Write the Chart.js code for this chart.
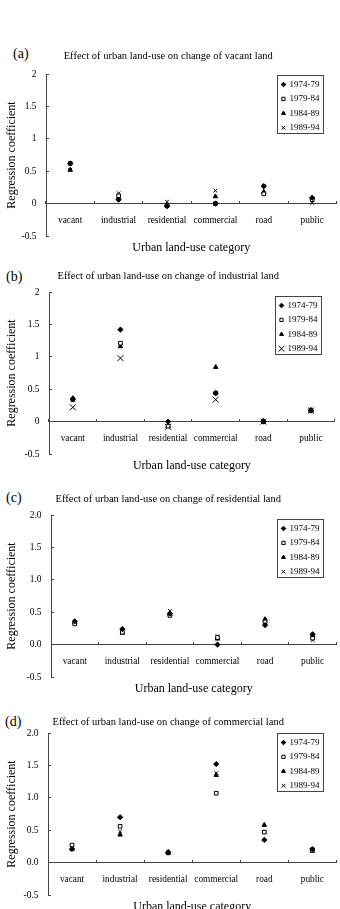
<!DOCTYPE html>
<html>
<head>
<meta charset="utf-8">
<title>Effect of urban land-use</title>
<script src="https://cdn.jsdelivr.net/npm/chart.js@4.4.0/dist/chart.umd.min.js"></script>
<style>
  body { margin: 0; background: #fff; width: 340px; height: 909px; position: relative; overflow: hidden; font-family: 'Liberation Serif', 'Times New Roman', serif; }
  .panel { position: absolute; left: 0; width: 340px; height: 213px; }
  .tag { position: absolute; font-size: 14px; line-height: 16px; color: #000; }
</style>
</head>
<body>
<div class="tag" style="left:13px;top:46px">(a)</div>
<div class="tag" style="left:6px;top:269px">(b)</div>
<div class="tag" style="left:6px;top:490px">(c)</div>
<div class="tag" style="left:5px;top:714px">(d)</div>

<div class="panel" style="top:44px"><canvas id="chartA"></canvas></div>
<div class="panel" style="top:262px"><canvas id="chartB"></canvas></div>
<div class="panel" style="top:485px"><canvas id="chartC"></canvas></div>
<div class="panel" style="top:703px"><canvas id="chartD"></canvas></div>

<script>
    const categories = ['vacant', 'industrial', 'residential', 'commercial', 'road', 'public'];
    const periods = ['1974-79', '1979-84', '1984-89', '1989-94'];
    const yTicksPlain = ['-0.5', '0', '0.5', '1', '1.5', '2'];
    const yTicksFixed = ['-0.5', '0.0', '0.5', '1.0', '1.5', '2.0'];

    // regression coefficients, one row per period (same order as periods)
    const vacantCoef = [
        [0.62, 0.06, -0.04, 0.00, 0.27, 0.09],
        [0.62, 0.12, -0.03, 0.00, 0.15, 0.06],
        [0.52, 0.09, -0.02, 0.11, 0.18, 0.09],
        [0.52, 0.16, 0.03, 0.20, 0.27, 0.01]
    ];
    const industrialCoef = [
        [0.35, 1.42, 0.00, 0.44, 0.00, 0.17],
        [0.34, 1.21, -0.07, 0.44, 0.00, 0.17],
        [0.36, 1.16, -0.07, 0.84, 0.01, 0.18],
        [0.22, 0.98, -0.08, 0.34, 0.00, 0.17]
    ];
    const residentialCoef = [
        [0.36, 0.24, 0.48, 0.00, 0.30, 0.16],
        [0.32, 0.19, 0.45, 0.11, 0.35, 0.10],
        [0.34, 0.18, 0.47, 0.09, 0.39, 0.14],
        [0.33, 0.21, 0.52, 0.13, 0.37, 0.07]
    ];
    const commercialCoef = [
        [0.21, 0.70, 0.16, 1.52, 0.35, 0.21],
        [0.27, 0.56, 0.15, 1.07, 0.47, 0.19],
        [0.21, 0.43, 0.16, 1.35, 0.58, 0.18],
        [0.23, 0.48, 0.15, 1.38, 0.47, 0.20]
    ];

    const markerStyles = ['rectRot', 'rect', 'triangle', 'crossRot'];
    const serif = 'Liberation Serif';
    const axisColor = '#444';

    // legend drawn as a framed box in the upper right of the plot
    const boxLegendPlugin = {
        id: 'boxLegend',
        afterDraw(chart, args, opts) {
            const { ctx, chartArea } = chart;
            const w = 46, h = 58;
            const x0 = Math.round(chartArea.right - 13.5 - w);
            const y0 = Math.round(chartArea.top + opts.top);
            ctx.save();
            ctx.strokeStyle = axisColor;
            ctx.lineWidth = 1;
            ctx.strokeRect(x0 + 0.5, y0 + 0.5, w, h);
            ctx.font = '9px "' + serif + '"';
            ctx.textBaseline = 'middle';
            chart.data.datasets.forEach((ds, i) => {
                const y = y0 + 9.5 + i * 14.4;
                ctx.fillStyle = ds.pointBackgroundColor;
                ctx.strokeStyle = '#000';
                ctx.lineWidth = 1;
                Chart.helpers.drawPoint(ctx, {
                    pointStyle: ds.pointStyle,
                    radius: i === 3 ? ds.pointRadius : 2.3,
                    borderWidth: 1
                }, x0 + 6.5, y);
                ctx.fillStyle = '#000';
                ctx.fillText(ds.label, x0 + 12.5, y);
            });
            ctx.restore();
        }
    };

    function makeChart(id, title, coef, tickLabels, opts) {
        const ctx = document.getElementById(id).getContext('2d');
        return new Chart(ctx, {
            type: 'line',
            data: {
                labels: categories,
                datasets: periods.map((p, i) => ({
                    label: p,
                    data: coef[i],
                    showLine: false,
                    pointStyle: markerStyles[i],
                    pointRadius: i === 3 ? opts.cross : 2.6,
                    pointHoverRadius: i === 3 ? opts.cross : 2.6,
                    pointBackgroundColor: i === 1 ? '#fff' : '#000',
                    pointBorderColor: '#000',
                    pointBorderWidth: 1
                }))
            },
            options: {
                responsive: true,
                maintainAspectRatio: false,
                animation: false,
                layout: { padding: { left: 0, right: 3.5, top: 0, bottom: 0 } },
                plugins: {
                    legend: { display: false },
                    tooltip: { enabled: false },
                    subtitle: {
                        display: true,
                        text: title,
                        color: '#000',
                        font: { family: serif, size: 10.5 },
                        padding: { top: 30 - 12.6 - opts.gap, bottom: opts.gap }
                    },
                    title: {
                        display: true,
                        position: 'bottom',
                        fullSize: false,
                        text: 'Urban land-use category',
                        color: '#000',
                        font: { family: serif, size: 12, weight: 'normal' },
                        padding: { top: 4.3, bottom: 2.3 }
                    },
                    boxLegend: { top: opts.legendTop }
                },
                scales: {
                    x: {
                        type: 'category',
                        position: { y: 0 },
                        offset: true,
                        grid: { offset: true, drawOnChartArea: false, tickLength: -3, color: axisColor },
                        border: { color: axisColor, width: 1 },
                        ticks: {
                            color: '#000',
                            font: { family: serif, size: 9.3 },
                            padding: 14.6,
                            maxRotation: 0,
                            autoSkip: false
                        }
                    },
                    y: {
                        min: -0.5,
                        max: 2,
                        afterFit: function(scale) {
                            scale.width = opts.axisX;
                        },
                        grid: { drawOnChartArea: false, tickLength: -3, color: axisColor },
                        border: { color: axisColor, width: 1 },
                        ticks: {
                            stepSize: 0.5,
                            color: '#000',
                            font: { family: serif, size: 9.5 },
                            padding: 12.5,
                            callback: function(value, index) {
                                return tickLabels[index];
                            }
                        },
                        title: {
                            display: true,
                            text: 'Regression coefficient',
                            color: '#000',
                            font: { family: serif, size: 12 },
                            padding: { top: 5, bottom: 4 }
                        }
                    }
                }
            },
            plugins: [boxLegendPlugin]
        });
    }

    makeChart('chartA', 'Effect of urban land-use on change of vacant land', vacantCoef, yTicksPlain,
        { axisX: 46, gap: 11.2, legendTop: 1, cross: 2.6 });
    makeChart('chartB', 'Effect of urban land-use on change of industrial land', industrialCoef, yTicksPlain,
        { axisX: 49, gap: 9.4, legendTop: 4, cross: 4.2 });
    makeChart('chartC', 'Effect of urban land-use on change of residential land', residentialCoef, yTicksFixed,
        { axisX: 51, gap: 9.9, legendTop: 4, cross: 2.6 });
    makeChart('chartD', 'Effect of urban land-use on change of commercial land', commercialCoef, yTicksFixed,
        { axisX: 48, gap: 4.7, legendTop: 0, cross: 2.6 });
</script>
</body>
</html>
